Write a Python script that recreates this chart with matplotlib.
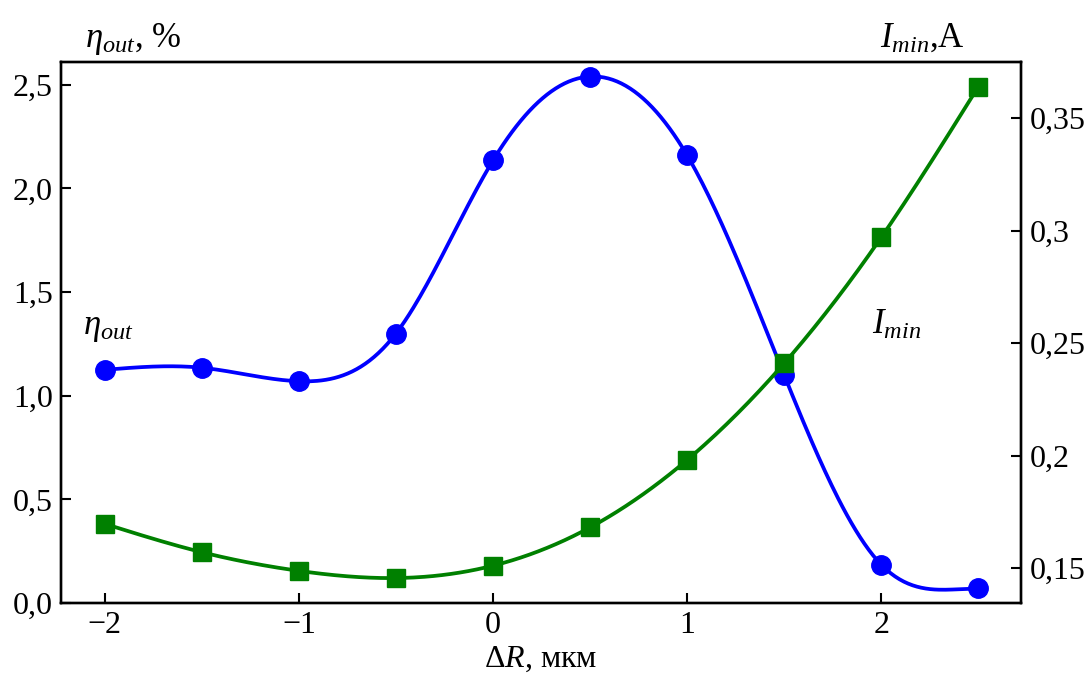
import numpy as np
import matplotlib
matplotlib.use("Agg")
import matplotlib.pyplot as plt
from matplotlib.ticker import FuncFormatter

plt.rcParams['font.family'] = ['Liberation Serif', 'DejaVu Serif']
plt.rcParams['mathtext.fontset'] = 'custom'
plt.rcParams['mathtext.rm'] = 'Liberation Serif'
plt.rcParams['mathtext.it'] = 'Liberation Serif:italic'
plt.rcParams['mathtext.bf'] = 'Liberation Serif:bold'

# data
dR = [-2, -1.5, -1, -0.5, 0, 0.5, 1, 1.5, 2, 2.5]
eta_out = [1.125, 1.135, 1.07, 1.30, 2.135, 2.54, 2.16, 1.10, 0.185, 0.07]
i_min = [0.1696, 0.157, 0.1487, 0.1455, 0.151, 0.168, 0.198, 0.241, 0.297, 0.364]

left_ticks = [0.0, 0.5, 1.0, 1.5, 2.0, 2.5]
right_ticks = [0.15, 0.2, 0.25, 0.3, 0.35]
x_ticks = [-2, -1, 0, 1, 2]


def cubic_spline(x, y, end_slope=None, n=400):
    # cubic spline for the smooth line; natural ends unless end_slope is given
    x = np.asarray(x, float)
    y = np.asarray(y, float)
    k = len(x)
    h = np.diff(x)
    A = np.zeros((k, k))
    b = np.zeros(k)
    A[0, 0] = 1
    if end_slope is None:
        A[-1, -1] = 1
    else:
        A[-1, -2] = h[-1]
        A[-1, -1] = 2 * h[-1]
        b[-1] = 6 * (end_slope - (y[-1] - y[-2]) / h[-1])
    for i in range(1, k - 1):
        A[i, i - 1] = h[i - 1]
        A[i, i] = 2 * (h[i - 1] + h[i])
        A[i, i + 1] = h[i]
        b[i] = 6 * ((y[i + 1] - y[i]) / h[i] - (y[i] - y[i - 1]) / h[i - 1])
    M = np.linalg.solve(A, b)
    xs = np.linspace(x[0], x[-1], n)
    idx = np.clip(np.searchsorted(x, xs) - 1, 0, k - 2)
    x0, x1 = x[idx], x[idx + 1]
    hh = x1 - x0
    t0 = x1 - xs
    t1 = xs - x0
    ys = (M[idx] * t0 ** 3 / (6 * hh) + M[idx + 1] * t1 ** 3 / (6 * hh)
          + (y[idx] / hh - M[idx] * hh / 6) * t0
          + (y[idx + 1] / hh - M[idx + 1] * hh / 6) * t1)
    return xs, ys


def comma(v, pos):
    s = ('%.2f' % v).rstrip('0')
    if s.endswith('.'):
        s += '0'
    return s.replace('.', ',')


fig = plt.figure(figsize=(10.9, 6.77), dpi=100)
ax = fig.add_axes([0.056, 0.1093, 0.8807, 0.7991])
ax2 = ax.twinx()

xs, ys = cubic_spline(dR, eta_out, end_slope=0.0)
ax.plot(xs, ys, color='#0000ff', lw=2.7)
ax.plot(dR, eta_out, 'o', color='#0000ff', ms=14)

xs, ys = cubic_spline(dR, i_min)
ax2.plot(xs, ys, color='#008000', lw=2.7)
ax2.plot(dR, i_min, 's', color='#008000', ms=13)

ax.set_xlim(-2.225, 2.72)
ax.set_ylim(0, 2.61)
ax2.set_ylim(0.1344, 0.375)

ax.set_xticks(x_ticks)
ax.set_yticks(left_ticks)
ax2.set_yticks(right_ticks)
ax.xaxis.set_major_formatter(FuncFormatter(lambda v, p: ('%d' % v).replace('-', '\u2212')))
ax.yaxis.set_major_formatter(FuncFormatter(lambda v, p: ('%.1f' % v).replace('.', ',')))
ax2.yaxis.set_major_formatter(FuncFormatter(comma))

for a in (ax, ax2):
    a.tick_params(direction='in', length=7, width=1.5, labelsize=23, pad=6)
    for sp in a.spines.values():
        sp.set_linewidth(1.7)

ax.set_xlabel(r'$\Delta R$, мкм', fontsize=23, labelpad=3)

fig.text(85 / 1090, 1 - 47 / 677, r'$\eta_{out}$, %', fontsize=25, ha='left', va='baseline')
fig.text(880 / 1090, 1 - 47 / 677, r'$I_{min}$,A', fontsize=25, ha='left', va='baseline')
ax.text(-2.11, 1.30, r'$\eta_{out}$', fontsize=25, ha='left', va='baseline')
ax.text(1.95, 1.30, r'$I_{min}$', fontsize=25, ha='left', va='baseline')

plt.savefig('out.png', dpi=100)
